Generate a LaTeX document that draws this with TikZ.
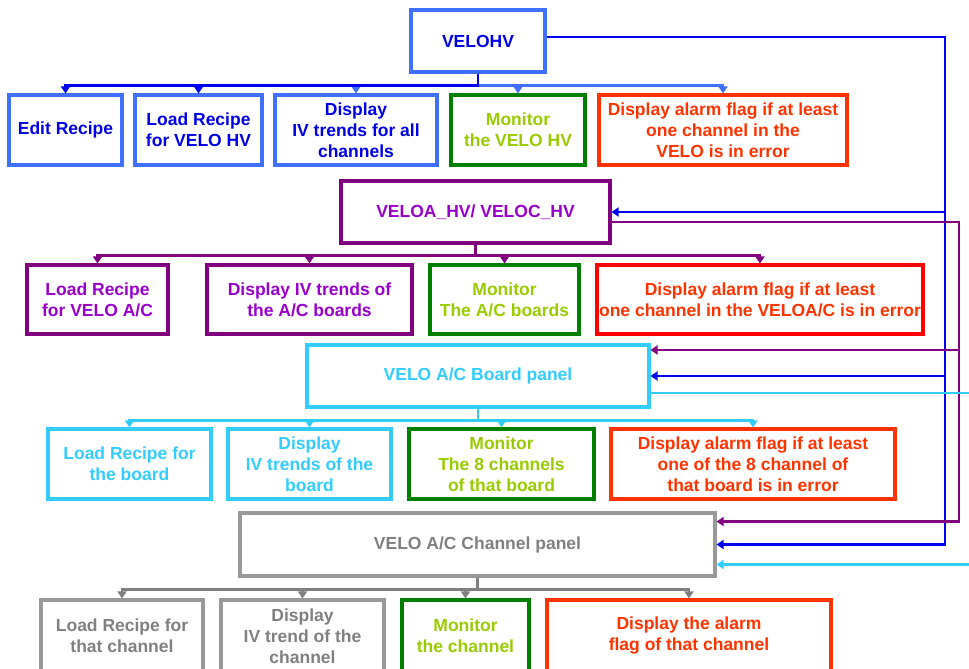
\documentclass[tikz,border=0pt]{standalone}
\usepackage{fontspec}
\setmainfont{Liberation Sans}
\usetikzlibrary{arrows.meta,calc}

\definecolor{hvtext}{RGB}{0,0,230}
\definecolor{hvframe}{RGB}{64,112,255}
\definecolor{hvwire}{RGB}{0,0,240}
\definecolor{acframe}{RGB}{128,0,128}
\definecolor{actext}{RGB}{153,0,204}
\definecolor{monframe}{RGB}{0,128,0}
\definecolor{montext}{RGB}{153,204,0}
\definecolor{alarmtext}{RGB}{255,51,0}
\definecolor{alarmred}{RGB}{255,0,0}
\definecolor{bdcyan}{RGB}{51,204,255}
\definecolor{chframe}{RGB}{153,153,153}
\definecolor{chtext}{RGB}{128,128,128}

\tikzset{
  panel/.style={draw, line width=3.1pt, inner sep=0pt, align=center,
    font=\fontsize{17.5}{21}\selectfont\bfseries},
  hvbox/.style={panel, draw=hvframe, text=hvtext},
  acbox/.style={panel, draw=acframe, text=actext},
  bdbox/.style={panel, draw=bdcyan, text=bdcyan},
  chbox/.style={panel, draw=chframe, text=chtext},
  monbox/.style={panel, draw=monframe, text=montext},
  alarmbox/.style={panel, draw=alarmtext, text=alarmtext},
  tree/.style={line width=2.3pt, -{Triangle[length=7pt,width=9pt]}},
  link/.style={line width=2.5pt, -{Triangle[length=7pt,width=9pt]}},
}

\begin{document}
\begin{tikzpicture}[x=1pt,y=-1pt]
\useasboundingbox (0,0) rectangle (969,669);
\clip (0,0) rectangle (969,669);

% ---- VELO HV level
\node[hvbox, minimum width=134pt, minimum height=62pt] (velohv) at (478,41) {VELOHV};
\node[hvbox, minimum width=113pt, minimum height=70pt] (edit) at (65.5,130) {Edit Recipe};
\node[hvbox, minimum width=127pt, minimum height=70pt] (loadhv) at (198.5,130) {Load Recipe\\for VELO HV};
\node[hvbox, minimum width=162pt, minimum height=70pt] (trendhv) at (356,130) {Display\\IV trends for all\\channels};
\node[monbox, minimum width=134pt, minimum height=70pt] (monhv) at (518,130) {Monitor\\the VELO HV};
\node[alarmbox, minimum width=248pt, minimum height=70pt] (alarmhv) at (723,130) {Display alarm flag if at least\\one channel in the\\VELO is in error};

% ---- VELO A / C level
\node[acbox, minimum width=269pt, minimum height=62pt] (veloa) at (475.5,212) {VELOA\_HV/ VELOC\_HV};
\node[acbox, minimum width=141pt, minimum height=69pt] (loadac) at (97.5,299.5) {Load Recipe\\for VELO A/C};
\node[acbox, minimum width=205pt, minimum height=69pt] (trendac) at (309.5,299.5) {Display IV trends of\\the A/C boards};
\node[monbox, minimum width=149pt, minimum height=69pt] (monac) at (504.5,299.5) {Monitor\\The A/C boards};
\node[alarmbox, draw=alarmred, minimum width=326pt, minimum height=69pt] (alarmac) at (760,299.5) {Display alarm flag if at least\\one channel in the VELOA/C is in error};

% ---- board level
\node[bdbox, minimum width=342pt, minimum height=62pt] (board) at (478,376) {VELO A/C Board panel};
\node[bdbox, minimum width=163pt, minimum height=70pt] (loadbd) at (129.5,464) {Load Recipe for\\the board};
\node[bdbox, minimum width=163pt, minimum height=70pt] (trendbd) at (309.5,464) {Display\\IV trends of the\\board};
\node[monbox, minimum width=185pt, minimum height=70pt] (monbd) at (501.5,464) {Monitor\\The 8 channels\\of that board};
\node[alarmbox, minimum width=284pt, minimum height=70pt] (alarmbd) at (753,464) {Display alarm flag if at least\\one of the 8 channel of\\that board is in error};

% ---- channel level
\node[chbox, minimum width=475pt, minimum height=63pt] (chan) at (477.5,544.5) {VELO A/C Channel panel};
\node[chbox, minimum width=162pt, minimum height=72pt] (loadch) at (122,636) {Load Recipe for\\that channel};
\node[chbox, minimum width=163pt, minimum height=72pt] (trendch) at (302.5,636) {Display\\IV trend of the\\channel};
\node[monbox, minimum width=127pt, minimum height=72pt] (monch) at (465.5,636) {Monitor\\the channel};
\node[alarmbox, minimum width=284pt, minimum height=72pt] (alarmch) at (689,636) {Display the alarm\\flag of that channel};

% ---- tree connectors
\draw[tree, hvframe] (velohv.south) -- ++(0,12) -| (trendhv.north);
\draw[tree, hvframe] (velohv.south) -- ++(0,12) -| (monhv.north);
\draw[tree, hvframe] (velohv.south) -- ++(0,12) -| (alarmhv.north);
\draw[tree, hvwire] (velohv.south) -- ++(0,12) -| (edit.north);
\draw[tree, hvwire] (velohv.south) -- ++(0,12) -| (loadhv.north);

\foreach \c in {loadac,trendac,monac,alarmac}
  \draw[tree, acframe] (veloa.south) -- ++(0,11) -| (\c.north);

\foreach \c in {loadbd,trendbd,monbd,alarmbd}
  \draw[tree, bdcyan] (board.south) -- ++(0,12) -| (\c.north);

\foreach \c in {loadch,trendch,monch,alarmch}
  \draw[tree, chtext] (chan.south) -- ++(0,12) -| (\c.north);

% ---- links from the upper panels down to the lower panels
\coordinate (bluebot) at (945,544.5);
\draw[link, hvwire] ([yshift=4pt]velohv.east) -| (bluebot) -- (chan.east);
\draw[link, hvwire] (bluebot |- veloa.east) -- (veloa.east);
\draw[link, hvwire] (bluebot |- board.east) -- (board.east);

\coordinate (purplebot) at (959,521.5);
\coordinate (bdin) at ([yshift=26pt]board.east);
\draw[link, acframe] ([yshift=-10pt]veloa.east) -| (purplebot) -- (purplebot -| chan.east);
\draw[link, acframe] (purplebot |- bdin) -- (bdin);

\coordinate (cyanout) at (990,564.5);
\draw[link, bdcyan] ([yshift=-17pt]board.east) -| (cyanout) -- (cyanout -| chan.east);
\end{tikzpicture}
\end{document}
